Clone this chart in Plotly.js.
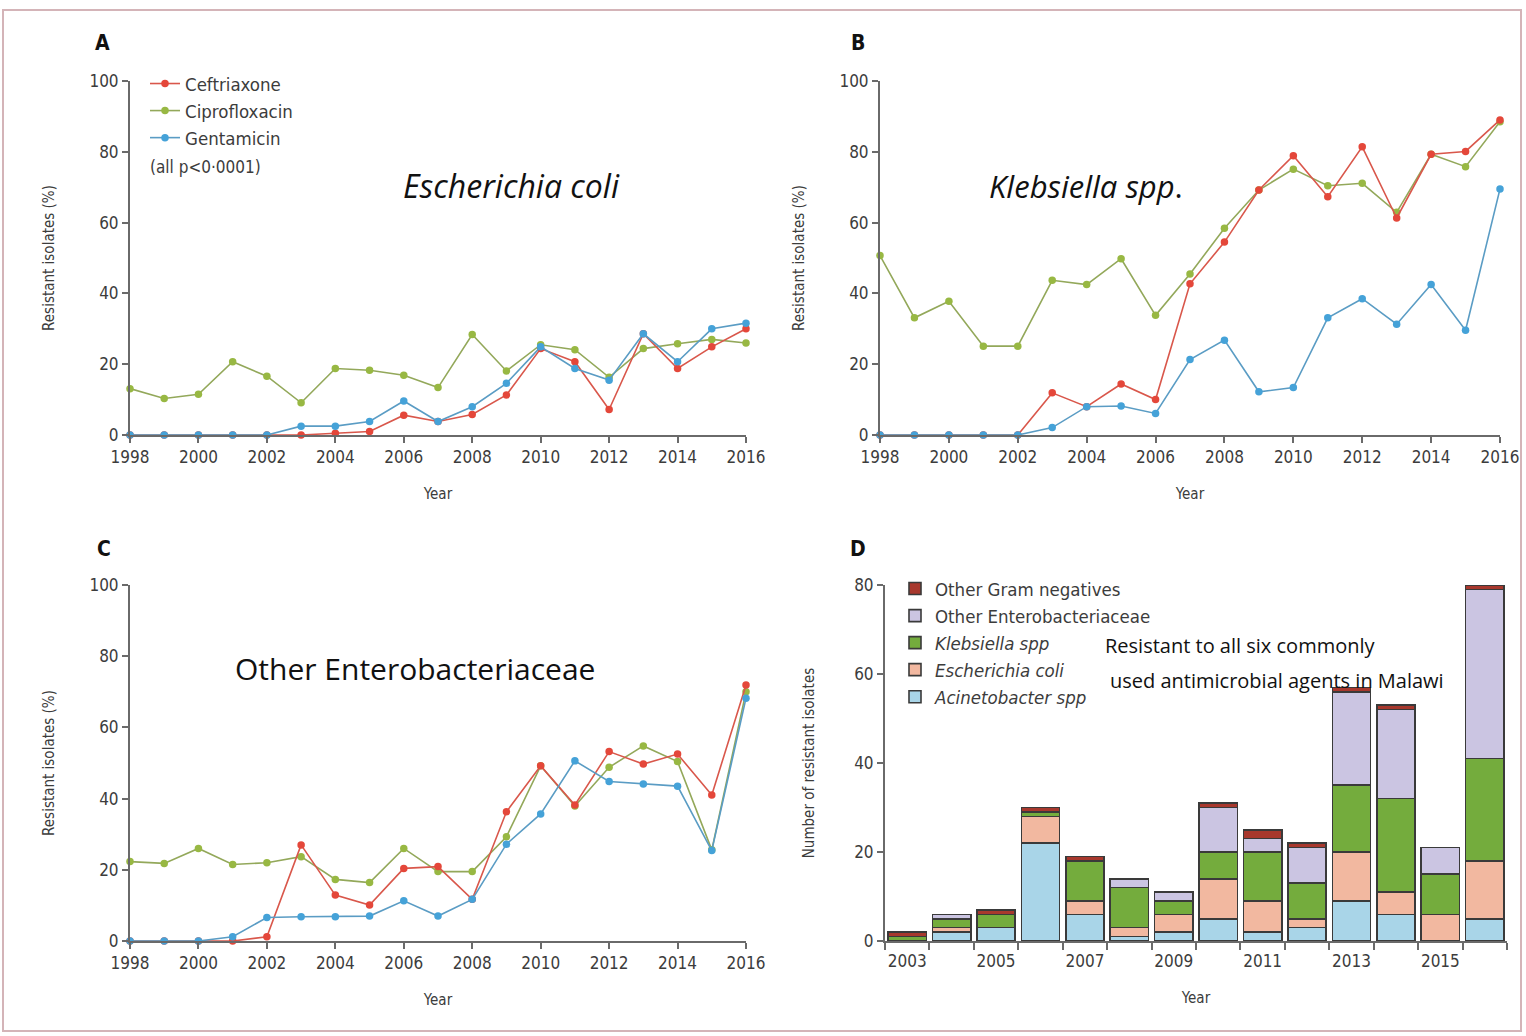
<!DOCTYPE html>
<html>
<head>
<meta charset="utf-8">
<script src="https://cdn.plot.ly/plotly-3.0.1.min.js"></script>
<style>html,body{margin:0;padding:0;background:#fff;}#chart{width:1526px;height:1036px;}</style>
</head>
<body>
<div id="chart"></div>
<script>
// ---------- DATA ----------
const years = [1998,1999,2000,2001,2002,2003,2004,2005,2006,2007,2008,2009,2010,2011,2012,2013,2014,2015,2016];

// Panel A: Escherichia coli (% resistant)
const ecoliCeftriaxone   = [0,0,0,0,0,0,0.5,1,5.6,3.8,5.8,11.3,24.4,20.7,7.2,28.6,18.8,24.9,30];
const ecoliCiprofloxacin = [13.1,10.3,11.5,20.7,16.6,9.1,18.8,18.3,16.9,13.4,28.4,18.1,25.5,24.1,16.3,24.4,25.8,27,26];
const ecoliGentamicin    = [0,0,0,0,0,2.5,2.5,3.8,9.6,3.8,8,14.6,24.9,18.8,15.5,28.6,20.7,30,31.6];

// Panel B: Klebsiella spp. (% resistant)
const klebCeftriaxone   = [0,0,0,0,0,11.9,8,14.4,10,42.7,54.5,69.2,78.9,67.3,81.4,61.3,79.3,80.1,89];
const klebCiprofloxacin = [50.7,33.1,37.8,25.1,25.1,43.7,42.5,49.8,33.8,45.5,58.4,69.2,75.1,70.4,71.1,62.9,79.3,75.8,88.5];
const klebGentamicin    = [0,0,0,0,0,2.1,8,8.2,6.1,21.3,26.8,12.2,13.4,33.1,38.5,31.3,42.5,29.6,69.5];

// Panel C: Other Enterobacteriaceae (% resistant)
const otherCeftriaxone   = [0,0,0,0,1.2,27,12.9,10.1,20.4,20.9,11.7,36.3,49.2,38.2,53.2,49.7,52.5,41,71.9];
const otherCiprofloxacin = [22.3,21.8,26,21.5,22,23.7,17.3,16.4,26,19.5,19.5,29.3,49.2,37.9,48.8,54.8,50.4,25.6,70];
const otherGentamicin    = [0,0,0,1.2,6.6,6.8,6.8,7,11.3,7,11.7,27.2,35.7,50.6,44.8,44.1,43.5,25.4,68.2];

// Panel D: number of isolates resistant to all six agents
const barYears       = [2003,2004,2005,2006,2007,2008,2009,2010,2011,2012,2013,2014,2015,2016];
const acinetobacter  = [0,2,3,22,6,1,2,5,2,3,9,6,0,5];
const escherichia    = [0,1,0,6,3,2,4,9,7,2,11,5,6,13];
const klebsiella     = [1,2,3,1,9,9,3,6,11,8,15,21,9,23];
const otherEntero    = [0,1,0,0,0,2,2,10,3,8,21,20,6,38];
const otherGramNeg   = [1,0,1,1,1,0,0,1,2,1,1,1,0,1];

const lineTicks = [1998,2000,2002,2004,2006,2008,2010,2012,2014,2016];
const barTickVals = [2003,2005,2007,2009,2011,2013,2015];

// ---------- STYLE ----------
const W = 1526, H = 1036;
const FONT = '"Liberation Sans Narrow","DejaVu Sans Condensed","Open Sans",sans-serif';
const ANN_FONT = '"Open Sans","Noto Sans",sans-serif';
const AXC = '#6a6a6a';
const RED = '#e4473a', GREEN = '#98b843', BLUE = '#45a2d8';
const RED_L = '#d9574b', GREEN_L = '#93a85a', BLUE_L = '#5a9cc4';

function px(x){return x/W;}
function py(y){return 1 - y/H;}

function lineTrace(x, y, name, col, lcol, xa, ya, show){
  return {type:'scatter', mode:'lines+markers', x:x, y:y, name:name, xaxis:xa, yaxis:ya,
    showlegend:show, legend:'legend', cliponaxis:false,
    line:{color:lcol, width:1.6}, marker:{color:col, size:7.5}};
}

const traces = [];
const panels = [
  ['x','y',ecoliCeftriaxone,ecoliCiprofloxacin,ecoliGentamicin,true],
  ['x2','y2',klebCeftriaxone,klebCiprofloxacin,klebGentamicin,false],
  ['x3','y3',otherCeftriaxone,otherCiprofloxacin,otherGentamicin,false]
];
panels.forEach(p=>{
  const t1 = lineTrace(years,p[3],'Ciprofloxacin',GREEN,GREEN_L,p[0],p[1],p[5]); t1.legendrank=2;
  const t2 = lineTrace(years,p[2],'Ceftriaxone',RED,RED_L,p[0],p[1],p[5]); t2.legendrank=1;
  const t3 = lineTrace(years,p[4],'Gentamicin',BLUE,BLUE_L,p[0],p[1],p[5]); t3.legendrank=3;
  traces.push(t1,t2,t3);
});

function barTrace(y,name,col){
  return {type:'bar', x:barYears, y:y, name:name, xaxis:'x4', yaxis:'y4', legend:'legend2',
    marker:{color:col, line:{color:'#3a3a3a', width:1.6}}};
}
traces.push(barTrace(acinetobacter,'<i>Acinetobacter spp</i>','#a9d5e8'));
traces.push(barTrace(escherichia,'<i>Escherichia coli</i>','#f2b8a0'));
traces.push(barTrace(klebsiella,'<i>Klebsiella spp</i>','#74ac3d'));
traces.push(barTrace(otherEntero,'Other Enterobacteriaceae','#cbc5e2'));
traces.push(barTrace(otherGramNeg,'Other Gram negatives','#a8382d'));

const tickFont = {family:FONT, size:17, color:'#3c3c3c'};
const titleFont = {family:FONT, size:15, color:'#3c3c3c'};

function xAx(dom, rng, anchor){
  return {domain:dom, range:rng, anchor:anchor, showline:true, linecolor:AXC, linewidth:2,
    ticks:'outside', ticklen:6, tickwidth:2, tickcolor:AXC, tickvals:lineTicks,
    showgrid:false, zeroline:false, tickfont:tickFont,
    title:{text:'Year', font:titleFont, standoff:22}};
}
function yAx(dom, rng, anchor, title, dt, so){
  return {domain:dom, range:rng, anchor:anchor, showline:true, linecolor:AXC, linewidth:2,
    ticks:'outside', ticklen:6, tickwidth:2, tickcolor:AXC, dtick:dt,
    showgrid:false, zeroline:false, tickfont:tickFont,
    title:{text:title, font:titleFont, standoff:so}};
}

const topDom = [py(435), py(81)];
const botDom = [py(941), py(585)];

function ann(text, x, y, size, fam, opts){
  return Object.assign({text:text, x:px(x), y:py(y), xref:'paper', yref:'paper', xanchor:'center', yanchor:'middle',
    showarrow:false, font:{family:fam, size:size, color:'#111'}}, opts||{});
}

const layout = {
  width:W, height:H, margin:{l:0,r:0,t:0,b:0}, paper_bgcolor:'#fff', plot_bgcolor:'rgba(0,0,0,0)',
  barmode:'stack', bargap:0.14,
  xaxis: xAx([px(130),px(746)],[1998,2016],'y'),
  yaxis: yAx(topDom,[0,100],'x','Resistant isolates (%)',20,31),
  xaxis2: xAx([px(880),px(1500)],[1998,2016],'y2'),
  yaxis2: yAx(topDom,[0,100],'x2','Resistant isolates (%)',20,31),
  xaxis3: xAx([px(130),px(746)],[1998,2016],'y3'),
  yaxis3: yAx(botDom,[0,100],'x3','Resistant isolates (%)',20,31),
  xaxis4: Object.assign(xAx([px(885),px(1507)],[2002.5,2016.5],'y4'),
    {tickvals:barTickVals, ticks:'', ticklabelstandoff:4,
     minor:{tick0:2002.5, dtick:1, ticks:'outside', ticklen:7, tickwidth:2, tickcolor:AXC}}),
  yaxis4: yAx(botDom,[0,80],'x4','Number of resistant isolates',20,36),
  legend:{x:px(145), y:py(65), xanchor:'left', yanchor:'top', bgcolor:'rgba(0,0,0,0)',
    font:{family:FONT, size:18.5, color:'#3c3c3c'}, traceorder:'normal', tracegroupgap:0},
  legend2:{x:px(895), y:py(570), xanchor:'left', yanchor:'top', bgcolor:'rgba(0,0,0,0)',
    font:{family:FONT, size:18.5, color:'#3c3c3c'}, traceorder:'reversed'},
  annotations:[
    ann('<b>A</b>',102,43,21,FONT),
    ann('<b>B</b>',858,43,21,FONT),
    ann('<b>C</b>',104,549,21,FONT),
    ann('<b>D</b>',858,549,21,FONT),
    ann('(all p&lt;0·0001)',148,167,17,FONT,{xanchor:'left', font:{family:FONT,size:17,color:'#3c3c3c'}}),
    ann('<i>Escherichia coli</i>',511,186,32,ANN_FONT),
    ann('<i>Klebsiella spp</i>.',1086,186,31,ANN_FONT),
    ann('Other Enterobacteriaceae',415,668,30,ANN_FONT),
    ann('Resistant to all six commonly',1103,645,20,ANN_FONT,{xanchor:'left'}),
    ann('used antimicrobial agents in Malawi',1108,680,20,ANN_FONT,{xanchor:'left'})
  ],
  shapes:[
    {type:'rect', xref:'paper', yref:'paper', x0:px(3), x1:px(1521), y0:py(1031), y1:py(10), line:{color:'#d4b4b8', width:2}, layer:'below'}
  ]
};

Plotly.newPlot('chart', traces, layout, {staticPlot:true, displayModeBar:false});
</script>
</body>
</html>
